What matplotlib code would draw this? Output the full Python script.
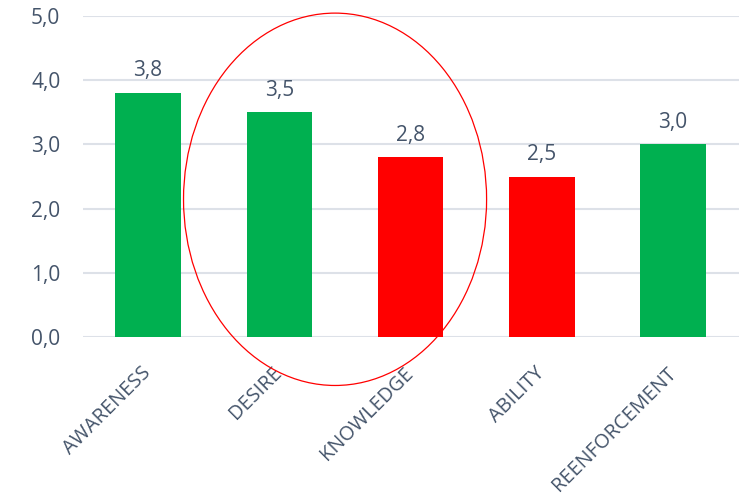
import matplotlib
matplotlib.use('Agg')
import matplotlib.pyplot as plt
import numpy as np
from matplotlib.patches import Ellipse

categories = ['AWARENESS', 'DESIRE', 'KNOWLEDGE', 'ABILITY', 'REENFORCEMENT']
scores = [3.8, 3.5, 2.8, 2.5, 3.0]
bar_colors = ['#00B050', '#00B050', '#FF0000', '#FF0000', '#00B050']
yticks = [0, 1, 2, 3, 4, 5]

txt = '#44546A'
plt.rcParams['font.family'] = ['Open Sans', 'DejaVu Sans']

fig = plt.figure(figsize=(7.44, 4.98), dpi=100)
ax = fig.add_axes([82.5 / 744, 1 - 337 / 498, 656 / 744, 321 / 498])

ind = np.arange(len(categories))
ax.bar(ind, scores, width=0.5, color=bar_colors, zorder=3)
ax.set_xlim(-0.5, len(categories) - 0.5)
ax.set_ylim(0, 5)
ax.set_yticks(yticks)
ax.set_yticklabels(['{:.1f}'.format(v).replace('.', ',') for v in yticks],
                   fontsize=15, color=txt)
ax.set_xticks(ind)
ax.set_xticklabels(categories, rotation=45, ha='right', va='center',
                   rotation_mode='anchor', fontsize=14.3, color=txt)
ax.tick_params(axis='y', length=0, pad=16)
ax.tick_params(axis='x', length=0, pad=24)
ax.grid(axis='y', color='#DDE1E8', linewidth=1.5, zorder=0)
for s in ax.spines.values():
    s.set_visible(False)

for i, v in enumerate(scores):
    ax.annotate('{:.1f}'.format(v).replace('.', ','), (i, v),
                xytext=(0, 12), textcoords='offset points',
                ha='center', va='baseline', fontsize=15, color=txt)

# red ellipse around DESIRE and KNOWLEDGE
ell = Ellipse((1.425, 2.145), 2.31, 5.80, fill=False, edgecolor='#FF0000',
              linewidth=0.9, clip_on=False, zorder=4)
ax.add_patch(ell)

fig.savefig('out.png', dpi=100)
